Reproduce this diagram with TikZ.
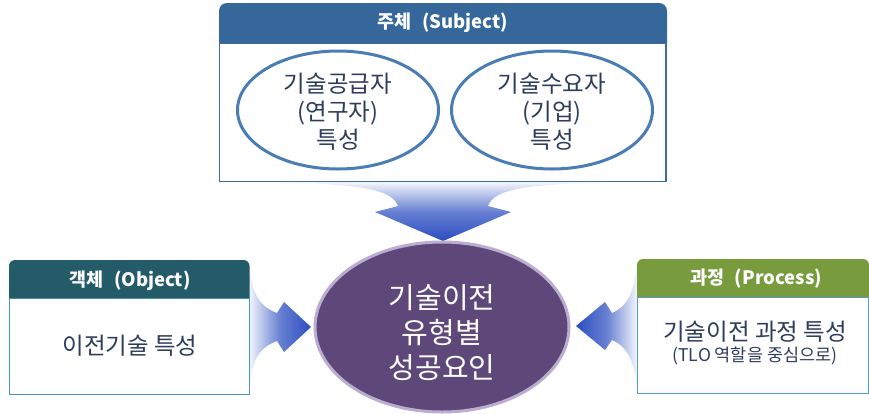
\documentclass[tikz,border=0pt]{standalone}
\usepackage{fontspec}
\setmainfont{Noto Sans CJK KR}
\usetikzlibrary{shapes.geometric}
\definecolor{hdrblue}{HTML}{35679A}
\definecolor{hdrteal}{HTML}{235B69}
\definecolor{hdrgreen}{HTML}{779B3D}
\definecolor{topborder}{HTML}{3F6D9C}
\definecolor{tealborder}{HTML}{4F97A8}
\definecolor{greenborder}{HTML}{5A9BC0}
\definecolor{ellblue}{HTML}{4A7DB5}
\definecolor{bodytext}{HTML}{2E3D5C}
\definecolor{centerfill}{HTML}{5E4879}
\definecolor{centerrim}{HTML}{BBADD0}
\definecolor{arrowpale}{HTML}{F2F6FC}
\definecolor{arrowblue}{HTML}{2C4DC0}
\begin{document}
\begin{tikzpicture}[x=1pt,y=-1pt,
  hdrtext/.style={text=white,font=\fontsize{18.5}{22}\selectfont\bfseries,inner sep=0pt},
  bodybig/.style={text=bodytext,font=\fontsize{23.5}{28}\selectfont,align=center,inner sep=0pt},
  subell/.style={ellipse,draw=ellblue,line width=3pt,fill=white,minimum width=201pt,minimum height=118pt,inner sep=0pt}]
\useasboundingbox (0,0) rectangle (869,413);
% ---------- arrows (drawn first) ----------
\shade[top color=arrowpale,bottom color=arrowblue,middle color=arrowblue!70!arrowpale]
  (270,182) .. controls (360,184) and (392,189) .. (398,206) -- (375,212) -- (443,241)
  -- (511,212) -- (488,206) .. controls (494,189) and (526,184) .. (616,182) -- cycle;
\shade[left color=arrowpale,right color=arrowblue,middle color=arrowblue!70!arrowpale]
  (249,258) .. controls (251,292) and (258,306) .. (277,313) -- (284,302) -- (311,327)
  -- (284,352) -- (277,341) .. controls (258,348) and (251,362) .. (249,392) -- cycle;
\shade[right color=arrowpale,left color=arrowblue,middle color=arrowblue!70!arrowpale]
  (637,258) .. controls (635,292) and (628,306) .. (612,313) -- (605,302) -- (576,326)
  -- (605,350) -- (612,340) .. controls (628,347) and (635,362) .. (637,392) -- cycle;
% ---------- top box: subject ----------
\draw[draw=topborder,line width=1.2pt,fill=white] (219.5,43) rectangle (666,181.5);
\fill[hdrblue] (219,43) [rounded corners=8pt] -- (219,3) -- (667,3) [sharp corners] -- (667,43) -- cycle;
\node[hdrtext] (subjhdr) at (443,23) {주체\hspace{0.35em} (Subject)};
\node[subell] (supplier) at (338,110) {};
\node[bodybig] (supplierT) at (338,112) {기술공급자\\(연구자)\\특성};
\node[subell] (demand) at (552,110) {};
\node[bodybig] (demandT) at (552,112) {기술수요자\\(기업)\\특성};
% ---------- object box ----------
\draw[draw=tealborder,line width=1pt,fill=white] (9.5,298) rectangle (249,394);
\fill[hdrteal] (9,298) [rounded corners=6pt] -- (9,260) -- (249.5,260) [sharp corners] -- (249.5,298) -- cycle;
\node[hdrtext] (objhdr) at (130,281) {객체\hspace{0.35em} (Object)};
\node[bodybig] (objT) at (130,346) {이전기술 특성};
% ---------- process box ----------
\draw[draw=greenborder,line width=1pt,fill=white] (637.5,297) rectangle (868.5,393);
\fill[hdrgreen] (637,297) [rounded corners=6pt] -- (637,259) -- (869,259) [sharp corners] -- (869,297) -- cycle;
\node[hdrtext] (prochdr) at (756,279) {과정\hspace{0.35em} (Process)};
\node[bodybig] (procT) at (755,332) {기술이전 과정 특성};
\node[text=bodytext,font=\fontsize{17.5}{20}\selectfont,inner sep=0pt] (procT2) at (755,356) {(TLO 역할을 중심으로)};
% ---------- centre ----------
\node[ellipse,fill=centerfill,draw=centerrim,line width=3pt,minimum width=254pt,minimum height=170pt,inner sep=0pt] (center) at (442,327) {};
\node[text=white,font=\fontsize{29}{35}\selectfont,align=center,inner sep=0pt] (centerT) at (442,333) {기술이전\\유형별\\성공요인};
\end{tikzpicture}
\end{document}
